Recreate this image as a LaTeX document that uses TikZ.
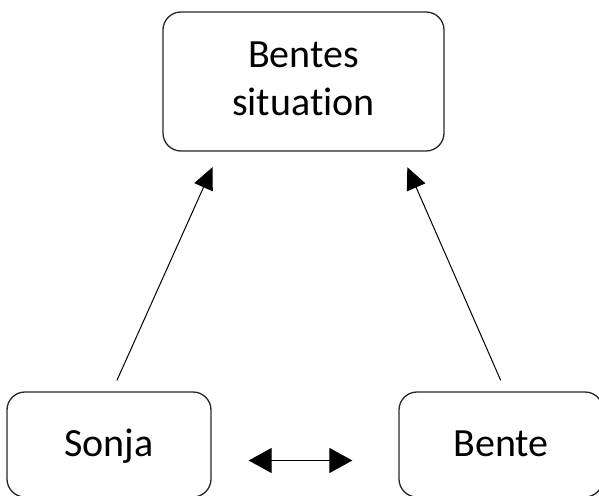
\documentclass[tikz,border=0pt]{standalone}
\usepackage{fontspec}
\setmainfont{Carlito}[Ligatures={NoCommon,NoContextual}]
\usetikzlibrary{positioning,arrows.meta}
\tikzset{
	>={Triangle[length=22pt,width=20pt]},
	boks/.style={
		rectangle,
		rounded corners=18pt,
		draw=black!85, line width=1.3pt,
		text centered,
		font=\fontsize{40}{48}\selectfont},
	person/.style={
		boks,
		minimum width=204pt,
		minimum height=105pt,
		text height=26pt,
		text depth=3pt},
	line/.style={draw, line width=1pt, ->},
	dobbel/.style={draw, line width=1.2pt,
		{Triangle[length=23pt,width=25pt]}-{Triangle[length=23pt,width=25pt]}},
}

\begin{document}
\begin{tikzpicture}[x=1pt,y=1pt]
	\useasboundingbox (0,0) rectangle (599,495);
	\node[boks, minimum width=281pt, minimum height=139pt, align=center, text depth=6pt] (situation) at (303.5,413.5) {Bentes\\situation};
	\node[person] (sonja) at (109,50.5) {Sonja};
	\node[person] (bente) at (501,50.5) {Bente};
	
	\path[line, shorten <=12pt, shorten >=17pt] ([xshift=3pt]sonja.north) -- ([xshift=-84pt]situation.south);
	\path[line, shorten <=12pt, shorten >=17pt] ([xshift=4.5pt]bente.north) -- ([xshift=97pt]situation.south);
	\path[dobbel, shorten <=37pt, shorten >=46pt] ([yshift=-16pt]sonja.east) -- ([yshift=-16pt]bente.west);
\end{tikzpicture}
\end{document}
